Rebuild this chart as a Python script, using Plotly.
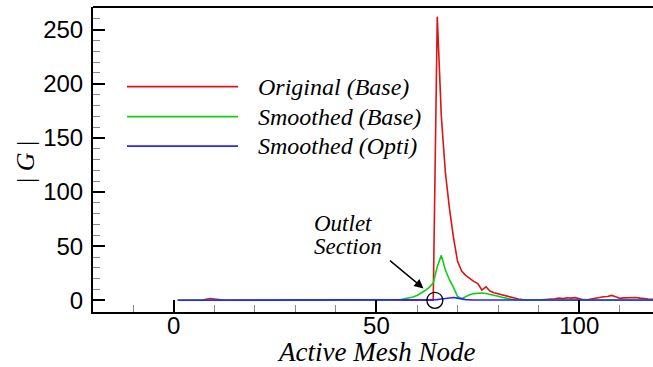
import plotly.graph_objects as go

# ---------------- data ----------------
red_x = [1, 7, 8, 9, 10, 11, 12, 13, 64, 65, 66, 67, 68, 69, 70, 71, 72, 73, 74, 75,
         76, 77, 78, 79, 80, 81, 82, 83, 84, 85, 86, 87, 88, 90, 91, 92, 93, 94, 95, 96,
         97, 98, 99, 100, 101, 102, 103, 104, 105, 106, 107, 108, 109, 110, 111, 112, 113, 114, 115, 116,
         117, 118, 119]
red_y = [0, 0, 1.0, 1.6, 1.2, 0.8, 0.6, 0, 0, 262, 170, 118, 85, 58, 36, 27, 23, 20, 17.5, 15.5,
         9.5, 12.5, 8.5, 7, 6, 5, 3.8, 2.8, 1.8, 1.2, 0.6, 0.3, 0.2, 0.3, 0.5, 1.0, 0.8, 1.5, 2.0, 1.6,
         2.3, 2.0, 2.5, 1.5, 0.6, 0.5, 1.2, 2.2, 3.0, 3.3, 3.5, 4.5, 3.4, 1.8, 2.2, 2.5, 2.8, 2.6, 2.0, 1.4,
         1.2, 1.0, 0.8]

green_x = [1, 52, 54, 56, 58, 59, 60, 61, 62, 63, 64, 65, 66, 67, 68, 69, 70, 71, 72, 73,
           74, 75, 76, 77, 78, 79, 80, 81, 82, 83, 84, 85, 86, 88, 119]
green_y = [0, 0, 0.3, 0.8, 2, 3, 4.5, 6.5, 9, 12, 16, 31, 41.5, 28, 19, 12, 3.5, 1.5, 3.5, 5.2,
           6.2, 6.7, 6.8, 6.3, 5.6, 4.8, 3.8, 2.8, 1.8, 1.1, 0.6, 0.3, 0.1, 0, 0]

blue_x = [1, 63, 64, 65, 66, 67, 68, 69, 70, 71, 72, 74, 119]
blue_y = [0, 0, 0.2, 0.6, 1.2, 1.8, 2.4, 2.6, 2.0, 1.2, 0.6, 0.3, 0.3]

series_names = ["Original (Base)", "Smoothed (Base)", "Smoothed (Opti)"]
series_colors = ["#dd1414", "#14cc14", "#2626ff"]

x_tickvals = [0, 50, 100]
y_tickvals = [0, 50, 100, 150, 200, 250]

outlet_node = 64.4

# ---------------- figure ----------------
fig = go.Figure()
for xs, ys, name, col in zip([red_x, green_x, blue_x], [red_y, green_y, blue_y],
                             series_names, series_colors):
    fig.add_trace(go.Scatter(x=xs, y=ys, mode="lines", name=name,
                             line=dict(color=col, width=1.6), showlegend=False))

L, T, B = 93, 7, 55
W, H = 653, 367
PW, PH = W - L, H - T - B


def px(xp):
    return (xp - L) / PW


def py(yp):
    return (H - B - yp) / PH


serif = "Liberation Serif, Times New Roman, serif"
sans = "Liberation Sans, Arial, sans-serif"

shapes = []
annotations = []

# manual legend
leg_y = [86.7, 116.7, 146.2]
for name, col, yy in zip(series_names, series_colors, leg_y):
    shapes.append(dict(type="line", xref="paper", yref="paper",
                       x0=px(127), x1=px(238), y0=py(yy), y1=py(yy),
                       line=dict(color=col, width=1.8)))
    annotations.append(dict(xref="paper", yref="paper", x=px(256), y=py(yy),
                            xanchor="left", yanchor="middle", showarrow=False,
                            text="<i>%s</i>" % name,
                            font=dict(family=serif, size=24, color="black")))

# top border
shapes.append(dict(type="line", xref="paper", yref="paper", x0=0, x1=1, y0=1, y1=1,
                   line=dict(color="black", width=2)))

# outlet circle
shapes.append(dict(type="circle", xref="x", yref="y", xsizemode="pixel", ysizemode="pixel",
                   xanchor=outlet_node, yanchor=0, x0=-8, x1=8, y0=-8, y1=8,
                   line=dict(color="black", width=1.3)))

# arrow
annotations.append(dict(xref="x", yref="y", x=61.6, y=11, ax=-35, ay=-29,
                        showarrow=True, arrowhead=2, arrowsize=1.3, arrowwidth=1.4,
                        arrowcolor="black", standoff=0, text=""))

annotations.append(dict(xref="paper", yref="paper", x=px(312), y=py(223),
                        xanchor="left", yanchor="middle", showarrow=False,
                        text="<i>Outlet</i>", font=dict(family=serif, size=23, color="black")))
annotations.append(dict(xref="paper", yref="paper", x=px(312), y=py(246),
                        xanchor="left", yanchor="middle", showarrow=False,
                        text="<i>Section</i>", font=dict(family=serif, size=23, color="black")))

# axis titles
annotations.append(dict(xref="paper", yref="paper", x=px(25), y=py(162),
                        xanchor="center", yanchor="middle", showarrow=False, textangle=-90,
                        text="| <i>G</i> |", font=dict(family=serif, size=26, color="black")))
annotations.append(dict(xref="paper", yref="paper", x=px(376), y=py(352),
                        xanchor="center", yanchor="middle", showarrow=False,
                        text="<i>Active Mesh Node</i>", font=dict(family=serif, size=27, color="black")))

fig.update_layout(
    width=W, height=H,
    margin=dict(l=L, r=0, t=T, b=B),
    paper_bgcolor="white", plot_bgcolor="white",
    shapes=shapes, annotations=annotations,
    showlegend=False,
)

fig.update_xaxes(range=[-19.9, 118.2], showgrid=False, zeroline=False,
                 showline=True, linecolor="black", linewidth=2,
                 tickvals=x_tickvals, ticks="inside", ticklen=12, tickwidth=1.6, tickcolor="black",
                 tickfont=dict(family=sans, size=24, color="black"), ticklabelstandoff=-9,
                 minor=dict(dtick=10, tick0=0, ticks="inside", ticklen=7, tickwidth=1,
                            tickcolor="#888888", showgrid=False))
fig.update_yaxes(range=[-10.8, 270.9], showgrid=False, zeroline=False,
                 showline=True, linecolor="black", linewidth=2,
                 tickvals=y_tickvals, ticks="inside", ticklen=12, tickwidth=1.6, tickcolor="black",
                 tickfont=dict(family=sans, size=24, color="black"), ticklabelstandoff=3,
                 minor=dict(dtick=10, tick0=0, ticks="inside", ticklen=7, tickwidth=1,
                            tickcolor="#888888", showgrid=False))

fig.write_html("out.html")
